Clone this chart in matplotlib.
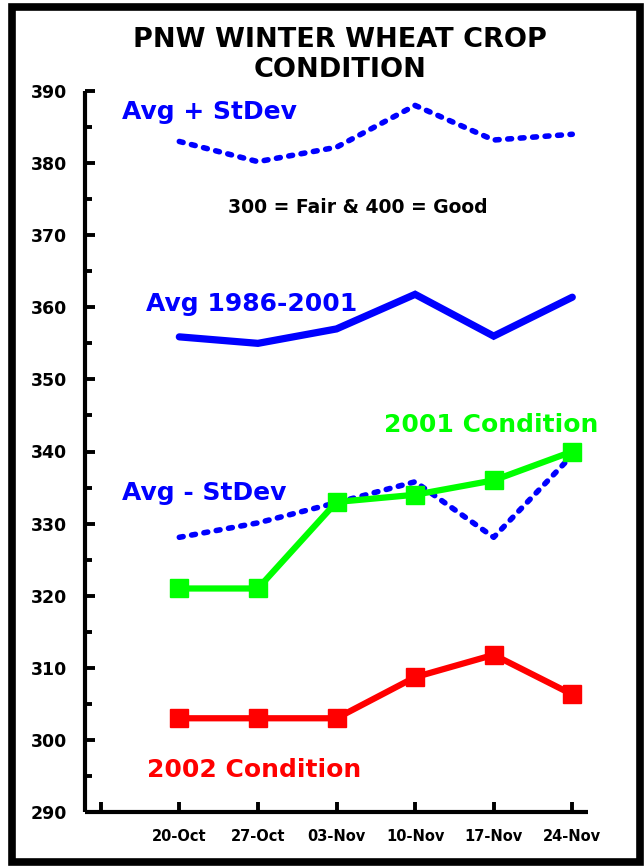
import matplotlib
matplotlib.use("Agg")
import matplotlib.pyplot as plt
from matplotlib.patches import Rectangle
from matplotlib.ticker import MultipleLocator, FixedLocator

# ---- data ----
weeks = ["20-Oct", "27-Oct", "03-Nov", "10-Nov", "17-Nov", "24-Nov"]
avg_plus_sd = [383.0, 380.2, 382.2, 388.0, 383.2, 384.0]
avg_1986_2001 = [355.9, 355.0, 357.0, 361.8, 356.0, 361.4]
avg_minus_sd = [328.1, 330.1, 332.9, 335.8, 328.1, 339.5]
cond_2001 = [321.0, 321.0, 333.0, 334.0, 336.0, 340.0]
cond_2002 = [303.0, 303.0, 303.0, 308.7, 311.8, 306.3]

W, H = 644, 867
FONT = "DejaVu Sans"
plt.rcParams["font.family"] = [FONT]

fig = plt.figure(figsize=(W / 100, H / 100), dpi=100)
fig.patch.set_facecolor("white")


def fx(x):
    return x / W


def fy(y):
    return (H - y) / H


ax = fig.add_axes([fx(85), fy(812), fx(588) - fx(85), fy(91) - fy(812)])

x = list(range(len(weeks)))
blue = "#0000FF"
dot_style = (0, (0.7, 1.55))

ax.plot(x, avg_plus_sd, color=blue, lw=4.0, linestyle=dot_style,
        dash_capstyle="round")
ax.plot(x, avg_1986_2001, color=blue, lw=5.2, solid_capstyle="round",
        solid_joinstyle="miter")
ax.plot(x, avg_minus_sd, color=blue, lw=4.0, linestyle=dot_style,
        dash_capstyle="round")
ax.plot(x, cond_2001, color="#00FF00", lw=4.5, marker="s", markersize=13,
        solid_joinstyle="miter")
ax.plot(x, cond_2002, color="#FF0000", lw=4.5, marker="s", markersize=12.5,
        solid_joinstyle="miter")

ax.set_ylim(290, 390)
ax.set_xlim(-1.2, 5.2)
ax.yaxis.set_major_locator(MultipleLocator(10))
ax.yaxis.set_minor_locator(MultipleLocator(5))
ax.xaxis.set_major_locator(FixedLocator([-1, 0, 1, 2, 3, 4, 5]))
ax.set_xticklabels([""] + weeks)

for s in ["top", "right"]:
    ax.spines[s].set_visible(False)
for s in ["left", "bottom"]:
    ax.spines[s].set_linewidth(3)
    ax.spines[s].set_capstyle("butt")

ax.tick_params(axis="y", which="major", direction="in", length=7.5, width=2.8,
               pad=13, labelsize=12.5)
ax.tick_params(axis="y", which="minor", direction="in", length=5, width=2.8)
ax.tick_params(axis="x", which="major", direction="in", length=7.5, width=2.8,
               pad=12, labelsize=10.5)
for lab in ax.get_xticklabels() + ax.get_yticklabels():
    lab.set_fontweight("bold")

# ---- texts ----
fig.text(fx(340), fy(47), "PNW WINTER WHEAT CROP", ha="center", va="baseline",
         fontsize=19.5, fontweight="bold")
fig.text(fx(340), fy(77), "CONDITION", ha="center", va="baseline",
         fontsize=19.5, fontweight="bold")

fig.text(fx(122), fy(119), "Avg + StDev", color=blue, fontsize=18,
         fontweight="bold", ha="left", va="baseline")
fig.text(fx(358), fy(213), "300 = Fair & 400 = Good", color="black",
         fontsize=13.5, fontweight="bold", ha="center", va="baseline")
fig.text(fx(146), fy(311), "Avg 1986-2001", color=blue, fontsize=18,
         fontweight="bold", ha="left", va="baseline")
fig.text(fx(598), fy(432), "2001 Condition", color="#00FF00", fontsize=18,
         fontweight="bold", ha="right", va="baseline")
fig.text(fx(122), fy(500), "Avg - StDev", color=blue, fontsize=18,
         fontweight="bold", ha="left", va="baseline")
fig.text(fx(147), fy(777), "2002 Condition", color="#FF0000", fontsize=18,
         fontweight="bold", ha="left", va="baseline")

# ---- frame ----
fig.patches.append(Rectangle((fx(11.5), fy(861.5)), fx(640) - fx(11.5),
                             fy(6.5) - fy(861.5), transform=fig.transFigure,
                             fill=False, edgecolor="black", linewidth=5.5,
                             joinstyle="miter"))

fig.savefig("out.png", dpi=100, facecolor="white")
